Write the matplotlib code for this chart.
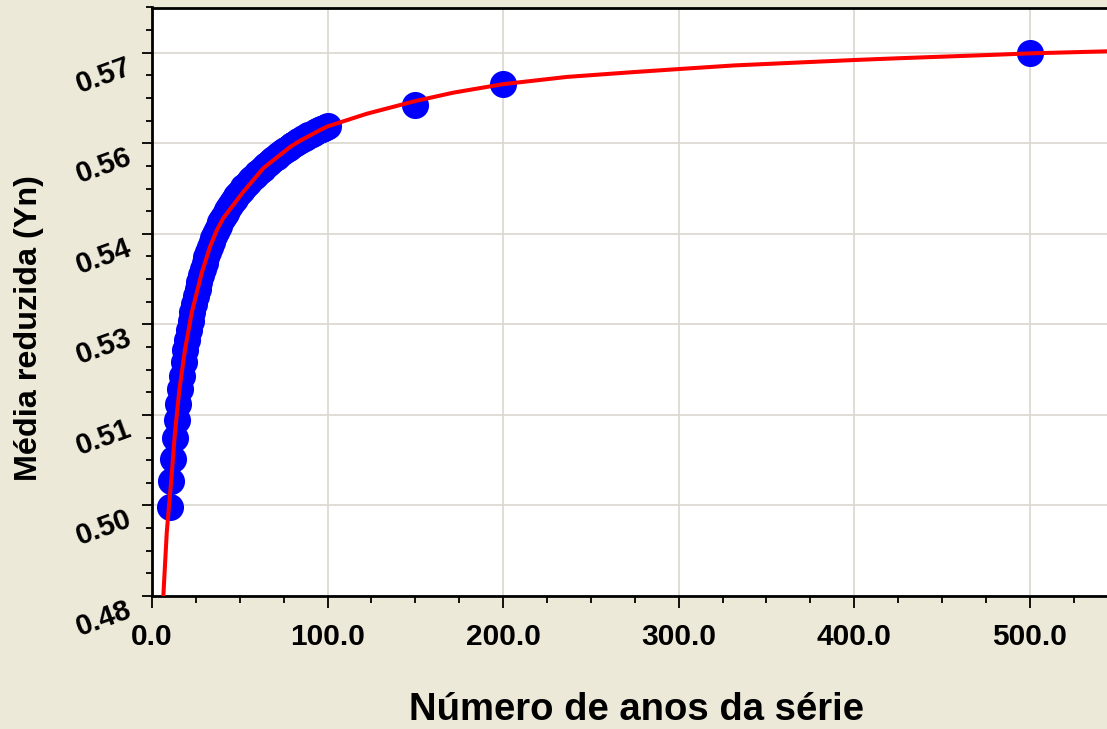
import matplotlib
matplotlib.use("Agg")
import matplotlib.pyplot as plt
from matplotlib.ticker import FixedLocator, MultipleLocator
from matplotlib.transforms import ScaledTranslation

# ---- data ----
n_years = list(range(10, 101)) + [150, 200, 500]
yn_values = [
    0.4948, 0.4990, 0.5027, 0.5062, 0.5091, 0.5118, 0.5143, 0.5165, 0.5187, 0.5207,
    0.5224, 0.5240, 0.5256, 0.5270, 0.5284, 0.5297, 0.5309, 0.5321, 0.5332, 0.5342,
    0.5352, 0.5361, 0.5370, 0.5378, 0.5386, 0.5393, 0.5400, 0.5407, 0.5413, 0.5419,
    0.5425, 0.5430, 0.5435, 0.5440, 0.5445, 0.5450, 0.5454, 0.5458, 0.5462, 0.5466,
    0.5470, 0.5473, 0.5477, 0.5480, 0.5483, 0.5486, 0.5489, 0.5492, 0.5495, 0.5498,
    0.5501, 0.5503, 0.5506, 0.5508, 0.5511, 0.5514, 0.5516, 0.5519, 0.5521, 0.5524,
    0.5526, 0.5528, 0.5531, 0.5533, 0.5535, 0.5537, 0.5539, 0.5541, 0.5543, 0.5545,
    0.5547, 0.5549, 0.5551, 0.5553, 0.5554, 0.5556, 0.5558, 0.5559, 0.5561, 0.5563,
    0.5564, 0.5566, 0.5567, 0.5569, 0.5570, 0.5572, 0.5573, 0.5574, 0.5576, 0.5577,
    0.5578,
    0.5613, 0.5648, 0.5700,
]

fit_n = [6.4, 8.4, 9.7, 11.0, 13.0, 15.6, 18.8, 22.6, 28.3, 33.1, 36.9, 40.6, 52.1,
         63.5, 78.7, 84.2, 95.8, 100, 122.4, 150, 171.8, 200, 236.4, 274.4, 300,
         331.4, 369.4, 400, 426, 483, 500, 552]
fit_yn = [0.4797, 0.4905, 0.4950, 0.4993, 0.5068, 0.5142, 0.5208, 0.5269, 0.5335,
          0.5379, 0.5406, 0.5426, 0.5470, 0.5509, 0.5544, 0.5554, 0.5572, 0.5578,
          0.5599, 0.5620, 0.5634, 0.5648, 0.5660, 0.5668, 0.5673, 0.5679, 0.5684,
          0.5688, 0.5691, 0.5697, 0.5699, 0.5703]

x_ticks = [0, 100, 200, 300, 400, 500]
x_ticklabels = ["0.0", "100.0", "200.0", "300.0", "400.0", "500.0"]
y_ticks = [0.48, 0.495, 0.51, 0.525, 0.54, 0.555, 0.57]
y_ticklabels = ["0.48", "0.50", "0.51", "0.53", "0.54", "0.56", "0.57"]

BG = "#ECE9D8"
plt.rcParams["font.family"] = ["Liberation Sans", "DejaVu Sans"]

W, H = 1107, 729
fig = plt.figure(figsize=(W / 100, H / 100), dpi=100, facecolor=BG)
left, right, top, bottom = 152, 1121, 7.5, 596
ax = fig.add_axes([left / W, 1 - bottom / H, (right - left) / W, (bottom - top) / H])
ax.set_facecolor("white")

ax.plot(n_years, yn_values, "o", color="#0000FF", markersize=19.5, markeredgewidth=0, zorder=3)
ax.plot(fit_n, fit_yn, "-", color="#FF0000", linewidth=2.9, zorder=4,
        solid_joinstyle="round")

ax.set_xlim(0, 552)
ax.set_ylim(0.48, 0.5775)

ax.xaxis.set_major_locator(FixedLocator(x_ticks))
ax.set_xticklabels(x_ticklabels, fontsize=21.5, fontweight="bold")
ax.xaxis.set_minor_locator(MultipleLocator(25))
ax.yaxis.set_major_locator(FixedLocator(y_ticks))
ax.set_yticklabels(y_ticklabels, fontsize=21, fontweight="bold", rotation=20,
                   rotation_mode="anchor", ha="right", va="center")
ax.yaxis.set_minor_locator(MultipleLocator(0.00375))

ax.tick_params(axis="x", which="major", direction="out", length=8.5, width=1.3, pad=11, colors="black")
ax.tick_params(axis="x", which="minor", direction="out", length=5, width=1.3)
ax.tick_params(axis="y", which="major", direction="out", length=7.5, width=1.3, pad=8)
ax.tick_params(axis="y", which="minor", direction="out", length=4.5, width=1.3)

offset = ScaledTranslation(0, -13 / 100, fig.dpi_scale_trans)
for lab in ax.get_yticklabels():
    lab.set_transform(lab.get_transform() + offset)

ax.grid(True, which="major", color="#DAD7CF", linewidth=1.2, zorder=0)
ax.set_axisbelow(True)

for side in ["left", "top", "bottom"]:
    ax.spines[side].set_linewidth(2.0)
    ax.spines[side].set_color("black")
ax.spines["right"].set_visible(False)

fig.text(636.7 / W, 1 - 710 / H, "Número de anos da série", fontsize=27.5,
         fontweight="bold", ha="center", va="center")
fig.text(29 / W, 1 - 328 / H, "Média reduzida (Yn)", fontsize=23.3,
         fontweight="bold", ha="center", va="center", rotation=90)

fig.savefig("out.png", dpi=100, facecolor=BG)
